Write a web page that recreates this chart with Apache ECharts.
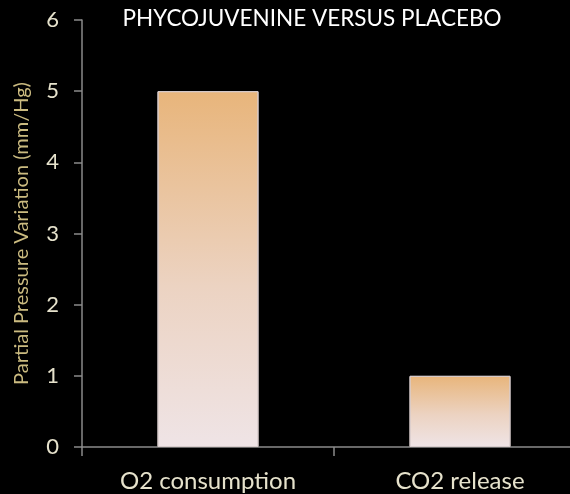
<!DOCTYPE html>
<html>
<head>
<meta charset="UTF-8">
<title>Phycojuvenine</title>
<script src="https://cdn.jsdelivr.net/npm/echarts@6/dist/echarts.min.js"></script>
<style>
  html, body { margin: 0; padding: 0; background: #000; overflow: hidden; }
  /* the category axis runs on past the right edge of the picture */
  #main { width: 586px; height: 494px; }
</style>
</head>
<body>
<div id="main"></div>
<script>
var categories = ['O2 consumption', 'CO2 release'];
var values = [5, 1];
var yTicks = [0, 1, 2, 3, 4, 5, 6];

var chart = echarts.init(document.getElementById('main'));
var option = {
    backgroundColor: '#000',
    textStyle: { fontFamily: 'Lato' },
    title: {
        text: 'PHYCOJUVENINE VERSUS PLACEBO',
        left: 307,
        textAlign: 'center',
        top: 2,
        textStyle: { color: '#fff', fontSize: 22.5, fontWeight: 'normal', fontFamily: 'Lato' }
    },
    grid: { left: 82, right: 0, top: 20, bottom: 47, containLabel: false },
    xAxis: {
        type: 'category',
        data: categories,
        axisLine: { lineStyle: { color: '#8a8a8a', width: 1.5 } },
        axisTick: { show: true, length: 9, lineStyle: { color: '#8a8a8a', width: 1.5 } },
        axisLabel: { color: '#e6e2cc', fontSize: 24, margin: 22 }
    },
    yAxis: {
        type: 'value',
        min: yTicks[0],
        max: yTicks[yTicks.length - 1],
        interval: 1,
        name: 'Partial Pressure Variation (mm/Hg)',
        nameLocation: 'middle',
        nameRotate: 90,
        nameGap: 50,
        nameTextStyle: { color: '#cbbb80', fontSize: 20 },
        axisLine: { show: true, lineStyle: { color: '#8a8a8a', width: 1.5 } },
        axisTick: { show: true, length: 8, lineStyle: { color: '#8a8a8a', width: 1.5 } },
        splitLine: { show: false },
        axisLabel: { color: '#e6e2cc', fontSize: 22, margin: 23 }
    },
    series: [{
        type: 'bar',
        data: values,
        barWidth: 101,
        itemStyle: {
            color: new echarts.graphic.LinearGradient(0, 0, 0, 1, [
                { offset: 0, color: '#e8b57b' },
                { offset: 0.55, color: '#ecd3c2' },
                { offset: 1, color: '#efe4e6' }
            ]),
            borderColor: '#d8cccc',
            borderWidth: 1
        }
    }]
};
chart.setOption(option);
</script>
</body>
</html>
